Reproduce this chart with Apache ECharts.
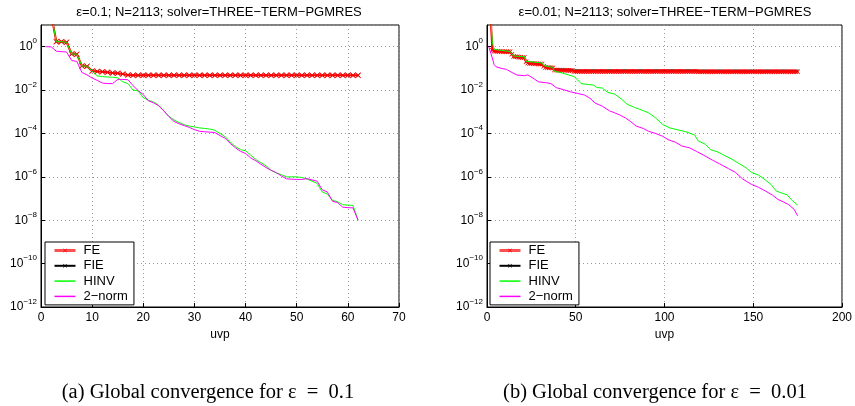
<!DOCTYPE html>
<html>
<head>
<meta charset="utf-8">
<title>Global convergence</title>
<script src="https://cdn.jsdelivr.net/npm/echarts@6/dist/echarts.min.js"></script>
<style>
  html, body { margin: 0; padding: 0; background: #fff; }
  #main { width: 855px; height: 406px; }
</style>
</head>
<body>
<div id="main"></div>
<script>
// ---- panel (a): eps = 0.1 ----
// FE / FIE / HINV start at uvp = 2, 2-norm starts at uvp = 1
const feLeft = [
  30, 1.7, 1.7, 1.6, 0.46, 0.45, 0.13, 0.125, 0.075, 0.072,
  0.07, 0.066, 0.062, 0.06, 0.055, 0.049,
  0.048, 0.048, 0.048, 0.048, 0.048, 0.048, 0.048, 0.048, 0.048, 0.048,
  0.048, 0.048, 0.048, 0.048, 0.048, 0.048, 0.048, 0.048, 0.048, 0.048,
  0.048, 0.048, 0.048, 0.048, 0.048, 0.048, 0.048, 0.048, 0.048, 0.048,
  0.048, 0.048, 0.048, 0.048, 0.048, 0.048, 0.048, 0.048, 0.048, 0.048,
  0.048, 0.048, 0.048, 0.048, 0.048
];
const fieLeft = feLeft; // the two curves coincide in panel (a)
const hinvLeft = [
  30, 1.7, 1.7, 1.6, 0.46, 0.45, 0.13, 0.125, 0.075,
  0.045, 0.042, 0.04, 0.039, 0.037, 0.024, 0.02, 0.01, 0.0092, 0.0045,
  0.0034, 0.0028, 0.002, 0.00112, 6.3e-4, 4.2e-4, 3.2e-4, 2.5e-4, 2.2e-4, 2.0e-4,
  1.8e-4, 1.7e-4, 1.6e-4, 1.4e-4, 1.0e-4, 7.1e-5, 4.0e-5, 2.5e-5, 1.8e-5, 1.6e-5,
  1.0e-5, 6.3e-6, 4.5e-6, 3.2e-6, 2.0e-6, 1.55e-6, 1.26e-6, 1.0e-6, 1.0e-6, 1.0e-6,
  9.3e-7, 7.9e-7, 6.3e-7, 5.0e-7, 2.0e-7, 1.6e-7, 8.3e-8, 7.1e-8, 5.2e-8, 5.0e-8,
  4.8e-8, 1.0e-8
];
const twoNormLeft = [
  1.0, 0.98, 0.62, 0.59, 0.57, 0.23, 0.21, 0.065, 0.05, 0.036,
  0.028, 0.021, 0.02, 0.02, 0.031, 0.031, 0.03, 0.016, 0.0095, 0.0062,
  0.0032, 0.0026, 0.0019, 0.0011, 6.0e-4, 3.6e-4, 2.8e-4, 2.3e-4, 1.9e-4, 1.5e-4,
  1.26e-4, 1.2e-4, 1.15e-4, 1.1e-4, 8e-5, 6e-5, 3.5e-5, 2.2e-5, 1.5e-5, 1.2e-5,
  7.5e-6, 5.5e-6, 3.8e-6, 2.7e-6, 2.0e-6, 1.55e-6, 1.1e-6, 8.1e-7, 7.8e-7, 7.6e-7,
  7.6e-7, 8.3e-7, 7.2e-7, 6.3e-7, 2.5e-7, 2.0e-7, 7.5e-8, 6.5e-8, 4.0e-8, 3.8e-8,
  3.7e-8, 1.0e-8
];

// ---- panel (b): eps = 0.01 ----
// FE / FIE start at uvp = 2 and run to 175
const feRight = [
  30, 0.68,
  0.62, 0.61, 0.61, 0.6, 0.6, 0.6, 0.59, 0.59, 0.58, 0.58,
  0.45,
  0.35, 0.34, 0.34, 0.33, 0.33, 0.32, 0.32,
  0.2,
  0.175, 0.17, 0.17, 0.17, 0.165, 0.165, 0.16, 0.16, 0.16,
  0.125,
  0.11, 0.108, 0.107, 0.106, 0.105,
  0.085, 0.084, 0.083, 0.083, 0.082, 0.082, 0.081, 0.081, 0.08, 0.08, 0.079,
  0.072, 0.072, 0.072, 0.072, 0.072, 0.072, 0.072, 0.072, 0.072, 0.072,
  0.072, 0.072, 0.072, 0.072, 0.072, 0.072, 0.072, 0.072, 0.072, 0.072,
  0.071, 0.071, 0.071, 0.071, 0.071, 0.071, 0.071, 0.071, 0.071, 0.071,
  0.071, 0.071, 0.071, 0.071, 0.071, 0.071, 0.071, 0.071, 0.071, 0.071,
  0.071, 0.071, 0.071, 0.071, 0.071, 0.071, 0.071, 0.071, 0.071, 0.071,
  0.071, 0.071, 0.071, 0.071, 0.071, 0.071, 0.071, 0.071, 0.071, 0.071,
  0.071, 0.071, 0.071, 0.071, 0.071, 0.071, 0.071, 0.071, 0.071, 0.071,
  0.07, 0.07, 0.07, 0.07, 0.07, 0.07, 0.07, 0.07, 0.07, 0.07,
  0.07, 0.07, 0.07, 0.07, 0.07, 0.07, 0.07, 0.07, 0.07, 0.07,
  0.07, 0.07, 0.07, 0.07, 0.07, 0.07, 0.07, 0.07, 0.07, 0.07,
  0.07, 0.07, 0.07, 0.07, 0.07, 0.07, 0.07, 0.07, 0.07, 0.07,
  0.07, 0.07, 0.07, 0.07, 0.07, 0.07, 0.07, 0.07, 0.07, 0.07,
  0.07, 0.07, 0.07, 0.07, 0.07, 0.07, 0.07
];
const fieRight = [
  30, 0.68,
  0.62, 0.61, 0.61, 0.6, 0.6, 0.6, 0.59, 0.59, 0.58, 0.58,
  0.45,
  0.35, 0.34, 0.34, 0.33, 0.33, 0.32, 0.32,
  0.2,
  0.175, 0.17, 0.17, 0.17, 0.165, 0.165, 0.16, 0.16, 0.16,
  0.13,
  0.115, 0.113, 0.112, 0.111, 0.11,
  0.09, 0.089, 0.088, 0.088, 0.087, 0.087, 0.086, 0.086, 0.085, 0.085, 0.084,
  0.077, 0.077, 0.077, 0.077, 0.077, 0.077, 0.077, 0.077, 0.077, 0.077,
  0.077, 0.077, 0.077, 0.077, 0.077, 0.077, 0.077, 0.077, 0.077, 0.077,
  0.077, 0.077, 0.077, 0.077, 0.077, 0.077, 0.077, 0.077, 0.077, 0.077,
  0.077, 0.077, 0.077, 0.077, 0.077, 0.077, 0.077, 0.077, 0.077, 0.077,
  0.077, 0.077, 0.077, 0.077, 0.077, 0.077, 0.077, 0.077, 0.077, 0.077,
  0.077, 0.077, 0.077, 0.077, 0.077, 0.077, 0.077, 0.077, 0.077, 0.077,
  0.077, 0.077, 0.077, 0.077, 0.077, 0.077, 0.077, 0.077, 0.077, 0.077,
  0.076, 0.076, 0.076, 0.076, 0.076, 0.076, 0.076, 0.076, 0.076, 0.076,
  0.076, 0.076, 0.076, 0.076, 0.076, 0.076, 0.076, 0.076, 0.076, 0.076,
  0.076, 0.076, 0.076, 0.076, 0.076, 0.076, 0.076, 0.076, 0.076, 0.076,
  0.076, 0.076, 0.076, 0.076, 0.076, 0.076, 0.076, 0.076, 0.076, 0.076,
  0.076, 0.076, 0.076, 0.076, 0.076, 0.076, 0.076, 0.076, 0.076, 0.076,
  0.076, 0.076, 0.076, 0.076, 0.076, 0.076, 0.076
];
// [uvp, residual]
const hinvRight = [
  [2, 30], [3, 1.7], [4, 0.75], [5, 0.65], [13, 0.6], [14, 0.47], [15, 0.37],
  [21, 0.35], [22, 0.21], [31, 0.18], [32, 0.135], [37, 0.11], [38, 0.075],
  [42, 0.062], [46, 0.05], [49, 0.042], [51, 0.03], [53, 0.02], [57, 0.018],
  [60, 0.017], [62, 0.013], [65, 0.0125], [68, 0.0078], [72, 0.0065], [76, 0.0037],
  [79, 0.0022], [83, 0.0016], [86, 0.0013], [91, 9e-4], [95, 5.2e-4], [99, 2.6e-4],
  [103, 1.8e-4], [107, 1.5e-4], [112, 1.2e-4], [117, 8.5e-5], [119, 4.5e-5],
  [123, 3.2e-5], [126, 1.8e-5], [130, 1.4e-5], [134, 9.5e-6], [138, 6.5e-6],
  [142, 4.1e-6], [146, 2.6e-6], [149, 1.6e-6], [153, 1.2e-6], [156, 8.1e-7],
  [160, 4.5e-7], [163, 2.2e-7], [166, 1.8e-7], [169, 1.5e-7], [172, 8e-8], [175, 5e-8]
];
const twoNormRight = [
  [1, 1.0], [2, 0.95], [3, 0.3], [4, 0.15], [5, 0.12], [8, 0.1], [11, 0.09],
  [14, 0.065], [17, 0.049], [21, 0.046], [23, 0.05], [26, 0.035], [29, 0.024],
  [33, 0.022], [36, 0.02], [39, 0.013], [43, 0.0105], [47, 0.0083], [51, 0.007],
  [55, 0.0059], [58, 0.0042], [61, 0.0025], [65, 0.0018], [69, 0.0011], [72, 8.9e-4],
  [75, 7e-4], [78, 5.2e-4], [81, 3.5e-4], [84, 2.2e-4], [88, 1.7e-4], [91, 1.26e-4],
  [95, 1e-4], [99, 7.4e-5], [102, 5.2e-5], [106, 4e-5], [110, 2.6e-5], [114, 2.2e-5],
  [118, 1.5e-5], [122, 1e-5], [127, 5.9e-6], [131, 4e-6], [136, 2.4e-6], [140, 1.6e-6],
  [144, 8e-7], [149, 4.5e-7], [153, 3.3e-7], [157, 2.2e-7], [161, 1.4e-7], [164, 9e-8],
  [167, 7e-8], [170, 5.2e-8], [173, 3.2e-8], [175, 1.6e-8]
];

const seriesNames = ["FE", "FIE", "HINV", "2−norm"];
const titles = [
  "ε=0.1; N=2113; solver=THREE−TERM−PGMRES",
  "ε=0.01; N=2113; solver=THREE−TERM−PGMRES"
];
const captions = [
  "(a) Global convergence for ε  =  0.1",
  "(b) Global convergence for ε  =  0.01"
];

function withUvp(arr, start) {
  return arr.map((v, i) => [i + start, v]);
}

const cross = "path://M0,1L1,0L5,4L9,0L10,1L6,5L10,9L9,10L5,6L1,10L0,9L4,5Z";
const font = "Liberation Sans, Arial, sans-serif";
const serif = "Liberation Serif, Times New Roman, serif";

function xAxisFor(idx, max, interval) {
  return {
    type: "value", gridIndex: idx, min: 0, max: max, interval: interval,
    name: "uvp", nameLocation: "middle", nameGap: 17,
    nameTextStyle: { color: "#000", fontSize: 12, fontFamily: font },
    axisLine: { lineStyle: { color: "#000" } },
    axisTick: { inside: true, length: 4, lineStyle: { color: "#000" } },
    axisLabel: { color: "#000", fontSize: 12, fontFamily: font, margin: 5 },
    splitLine: { show: true, lineStyle: { color: "#999", type: [1, 3] } }
  };
}

function yAxisFor(idx) {
  return {
    type: "log", logBase: 10, gridIndex: idx, min: 1e-12, max: 10, interval: 2,
    axisLine: { lineStyle: { color: "#000" } },
    axisTick: { inside: true, length: 4, lineStyle: { color: "#000" } },
    axisLabel: {
      showMaxLabel: false, margin: 4,
      formatter: function (v) {
        const e = Math.round(Math.log10(v));
        if (e % 2 !== 0 || e > 0) return "";
        return "{b|10}{e|" + (e < 0 ? "−" + (-e) : e) + "}";
      },
      rich: {
        b: { fontSize: 12, color: "#000", fontFamily: font },
        e: { fontSize: 8, color: "#000", fontFamily: font, padding: [0, 0, 11, 0] }
      }
    },
    splitLine: { show: true, lineStyle: { color: "#999", type: [1, 3] } }
  };
}

function seriesFor(idx, fe, fie, hinv, twoNorm, markSize) {
  return [
    {
      name: "FE", type: "line", xAxisIndex: idx, yAxisIndex: idx, data: fe,
      symbol: cross, symbolSize: markSize + 1, showAllSymbol: true,
      lineStyle: { color: "#ff0000", width: 2 },
      itemStyle: { color: "#ff0000" }, z: 2
    },
    {
      name: "FIE", type: "line", xAxisIndex: idx, yAxisIndex: idx, data: fie,
      symbol: cross, symbolSize: markSize - 1, showAllSymbol: true,
      lineStyle: { color: "#000", width: 0.8 },
      itemStyle: { color: "#000" }, z: 1
    },
    {
      name: "HINV", type: "line", xAxisIndex: idx, yAxisIndex: idx, data: hinv,
      symbol: "none", lineStyle: { color: "#00ff00", width: 1 },
      itemStyle: { color: "#00ff00" }, z: 3
    },
    {
      name: "2−norm", type: "line", xAxisIndex: idx, yAxisIndex: idx, data: twoNorm,
      symbol: "none", lineStyle: { color: "#ff00ff", width: 1 },
      itemStyle: { color: "#ff00ff" }, z: 4
    }
  ];
}

function legendFor(left) {
  const hidden = { color: "rgba(0,0,0,0)", borderWidth: 0 };
  return {
    data: [
      { name: seriesNames[0], lineStyle: { color: "#ff5050", width: 3 } },
      { name: seriesNames[1] },
      { name: seriesNames[2], itemStyle: hidden, lineStyle: { width: 1.5 } },
      { name: seriesNames[3], itemStyle: hidden, lineStyle: { width: 1.5 } }
    ],
    orient: "vertical", left: left, top: 242,
    padding: [2, 6, 2, 8], itemGap: 2.3, itemWidth: 21, itemHeight: 5,
    backgroundColor: "#fff", borderColor: "#000", borderWidth: 1, borderRadius: 0,
    textStyle: { color: "#000", fontSize: 13, lineHeight: 13, fontFamily: font, padding: [0, 0, 0, 3] }
  };
}

const chart = echarts.init(document.getElementById("main"));
chart.setOption({
  animation: false,
  backgroundColor: "#fff",
  grid: [
    { left: 41, top: 25, width: 358, height: 282, show: true, borderColor: "#000", borderWidth: 1, backgroundColor: "#fff" },
    { left: 487, top: 25, width: 357, height: 282, show: true, borderColor: "#000", borderWidth: 1, backgroundColor: "#fff" }
  ],
  xAxis: [xAxisFor(0, 70, 10), xAxisFor(1, 200, 50)],
  yAxis: [yAxisFor(0), yAxisFor(1)],
  legend: [legendFor(45), legendFor(490)],
  series: [].concat(
    seriesFor(0, withUvp(feLeft, 2), withUvp(fieLeft, 2), withUvp(hinvLeft, 2), withUvp(twoNormLeft, 1), 5),
    seriesFor(1, withUvp(feRight, 2), withUvp(fieRight, 2), hinvRight, twoNormRight, 4)
  ),
  graphic: [
    { type: "text", x: 219, y: 12, style: { text: titles[0], fill: "#000", font: "13px " + font, textAlign: "center", textVerticalAlign: "middle" } },
    { type: "text", x: 665, y: 12, style: { text: titles[1], fill: "#000", font: "13px " + font, textAlign: "center", textVerticalAlign: "middle" } },
    { type: "text", x: 208, y: 393, style: { text: captions[0], fill: "#000", font: "20.5px " + serif, textAlign: "center", textVerticalAlign: "middle" } },
    { type: "text", x: 655, y: 393, style: { text: captions[1], fill: "#000", font: "20.5px " + serif, textAlign: "center", textVerticalAlign: "middle" } }
  ]
});
</script>
</body>
</html>
